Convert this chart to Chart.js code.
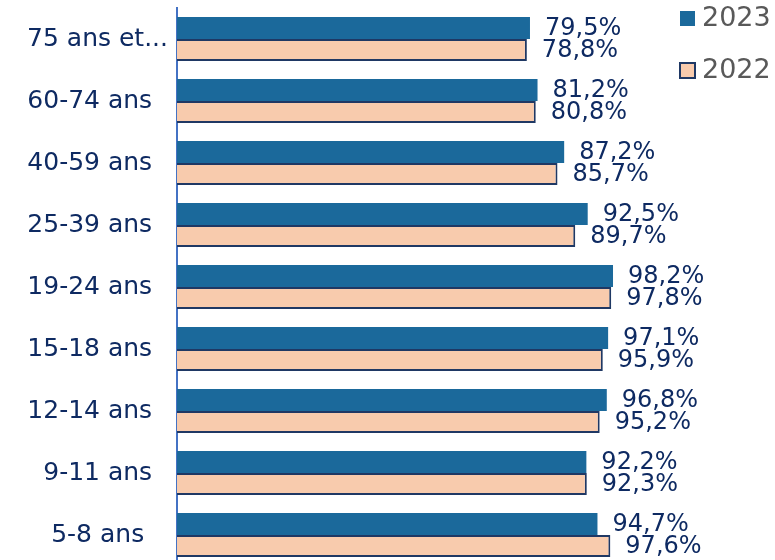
<!DOCTYPE html>
<html>
<head>
<meta charset="utf-8">
<script src="https://cdn.jsdelivr.net/npm/chart.js@4.4.1/dist/chart.umd.min.js"></script>
<style>
  body { margin: 0; background: #fff; overflow: hidden; }
  #wrap { width: 775px; height: 580px; }
</style>
</head>
<body>
<div id="wrap"><canvas id="chart"></canvas></div>
<script>
// categories, top to bottom (trailing spaces as in the source labels)
const categories = ["75 ans et...", "60-74 ans  ", "40-59 ans  ", "25-39 ans  ", "19-24 ans  ",
    "15-18 ans  ", "12-14 ans  ", "9-11 ans  ", "5-8 ans   "];
const values2023 = [79.5, 81.2, 87.2, 92.5, 98.2, 97.1, 96.8, 92.2, 94.7];
const values2022 = [78.8, 80.8, 85.7, 89.7, 97.8, 95.9, 95.2, 92.3, 97.6];

const NAVY = "#0e2a62";
const BLUE = "#1b699b";
const PEACH = "#f8cbad";
const FONT = "DejaVu Sans";

// VALUE LABELS
const valueLabels = {
    id: "valueLabels",
    afterDatasetsDraw(chart) {
        const ctx = chart.ctx;
        ctx.save();
        ctx.font = "24px '" + FONT + "'";
        ctx.fillStyle = NAVY;
        ctx.textAlign = "left";
        ctx.textBaseline = "middle";
        chart.data.datasets.forEach((ds, i) => {
            chart.getDatasetMeta(i).data.forEach((bar, j) => {
                const txt = ds.data[j].toFixed(1).replace(".", ",") + "%";
                ctx.fillText(txt, bar.x + 15, bar.y + 1);
            });
        });
        ctx.restore();
    }
};

// LEGEND (stacked at top right)
const sideLegend = {
    id: "sideLegend",
    afterDraw(chart) {
        const ctx = chart.ctx;
        ctx.save();
        ctx.font = "27px '" + FONT + "'";
        ctx.textBaseline = "middle";
        chart.data.datasets.forEach((ds, i) => {
            const y = 19 + i * 52;
            ctx.fillStyle = ds.backgroundColor;
            ctx.fillRect(680, y - 8, 15, 15);
            if (ds.borderWidth) {
                ctx.strokeStyle = ds.borderColor;
                ctx.lineWidth = 2;
                ctx.strokeRect(680, y - 8, 15, 15);
            }
            ctx.fillStyle = "#595959";
            ctx.fillText(ds.label, 702, y);
        });
        ctx.restore();
    }
};

new Chart(document.getElementById("chart"), {
    type: "bar",
    data: {
        labels: categories,
        datasets: [
            { label: "2023", data: values2023, backgroundColor: BLUE, borderWidth: 0 },
            { label: "2022", data: values2022, backgroundColor: PEACH, borderColor: "#1f3864", borderWidth: 2 }
        ]
    },
    options: {
        indexAxis: "y",
        responsive: true,
        maintainAspectRatio: false,
        animation: false,
        categoryPercentage: 0.71,
        barPercentage: 1,
        layout: { padding: { top: 8, right: 154, bottom: 14, left: 0 } },
        plugins: { legend: { display: false }, tooltip: { enabled: false } },
        scales: {
            x: { display: false, min: 0, max: 100 },
            y: {
                afterFit(s) { s.width = 177; s.paddingTop = 0; s.paddingBottom = 0; },
                grid: { display: false, drawTicks: false },
                border: { display: true, color: "#4472c4", width: 2 },
                ticks: { color: NAVY, padding: 9, font: { family: FONT, size: 25 } }
            }
        }
    },
    plugins: [valueLabels, sideLegend]
});
</script>
</body>
</html>
